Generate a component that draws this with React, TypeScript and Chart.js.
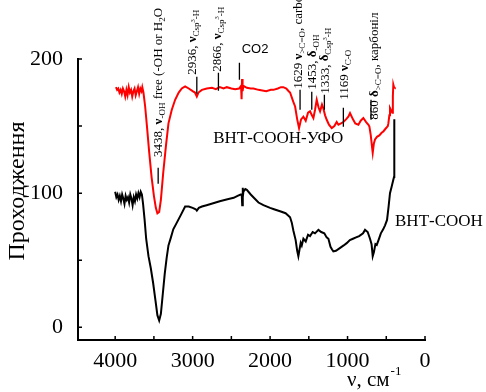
import React, { useEffect, useRef } from "react";
import { Chart, registerables } from "chart.js";
Chart.register(...registerables);

// ВНТ-СООН (black)
const wnBlack = [4000,3985,3970,3955,3940,3925,3910,3895,3880,3865,3850,3835,3820,3805,3790,3775,3760,3745,3730,3715,3700,3685,3670,3655,3640,3620,3600,3570,3540,3510,3480,3455,3432,3410,3385,3360,3335,3312,3280,3250,3204,3150,3097,3050,3000,2960,2946,2920,2880,2820,2735,2650,2550,2470,2420,2380,2366,2360,2355,2350,2345,2320,2300,2250,2200,2150,2086,2000,1950,1871,1800,1760,1742,1720,1699,1670,1650,1635,1620,1605,1591,1570,1540,1510,1484,1450,1420,1376,1340,1300,1270,1247,1220,1200,1183,1150,1100,1050,1011,970,930,890,850,800,774,740,710,690,675,660,640,623,600,570,540,516,490,470,452,430,409,400,398,396,395];
const tBlack = [101,97,99,95,98,94,99,96,92,98,95,97,93,99,96,91,97,94,99,96,100,97,101,99,92,80,66,53,44,33,20,9,5,10,25,40,52,61,67,73,78,84,90,90,89,88,87,89,90,91,92.5,94,95.5,96.5,98,99,99,91,104,97,101,103,102.5,99,96,93,91,89,88,86.5,85,83,82,78,72,65,57,53,58,63,61,66,64,69,68,71,70,72.6,71,70,67,66,60,58,56.5,57,59,61,62.7,65,66,67,68,70,72.6,71,66,62,53,56,62,61.4,65,70,73,76,80,90,100,105,110,112,125,145,155];

// ВНТ-СООН-УФО (red)
const wnRed = [3990,3975,3960,3945,3930,3915,3900,3885,3870,3855,3840,3825,3810,3795,3780,3765,3750,3735,3720,3705,3690,3675,3660,3650,3635,3613,3590,3560,3530,3500,3475,3455,3432,3410,3380,3345,3312,3270,3226,3180,3140,3097,3050,3000,2970,2946,2925,2880,2817,2750,2700,2650,2600,2559,2500,2450,2400,2375,2368,2362,2355,2345,2300,2250,2215,2150,2100,2050,1990,1957,1900,1860,1829,1790,1760,1742,1700,1677,1650,1626,1600,1570,1540,1510,1484,1460,1441,1420,1398,1375,1355,1330,1312,1290,1269,1240,1204,1170,1140,1118,1085,1054,1020,990,968,930,900,860,830,796,760,730,718,700,685,675,660,645,620,590,560,538,510,480,473,460,452,440,422,415,409,400,390];
const tRed = [179,177,178,175,177,174,178,176,172,177,173,179,175,177,172,176,178,173,176,179,174,178,176,179,175,164.6,150,130,112,98,89,85,86,95,115,135,152,162,169.6,175,178,179.6,178,176,175,172,175,177,178,178.5,177.5,179,178,179,178,177.5,178,180,170,185,176,180,178.5,178,178,177,176.5,176,177,177,178,179,179,178,176,175,168,164.6,155,148.5,155,157,154,160,161,158,156,162,169.6,164,161,166,163,158,154.7,151,148.5,150,153,151,152,153,155,157,159.7,155,152,151,154,156,153,151,149.7,143,135,130,137,140,142,143,145,146,148,150,152,158,163.4,162,160,172,181,179,178.6];

const xTicks = [4000, 3000, 2000, 1000, 0];
const xMinorTicks = [3500, 2500, 1500, 500];
const yTicks = [0, 100, 200];
const yMinorTicks = [50, 150];

const seriesNames = ["ВНТ-СООН-УФО", "ВНТ-СООН"];
const seriesLabelAt = [[2735, 141], [387, 78.8]]; // [wavenumber, transmission]
const yTitle = "Проходження";
const xTitle = "ν, см";
const xTitleSup = "-1";

type Part = { t: string; k: "n" | "b" | "sub" | "subsup" };
// annotation: text centre wn, text bottom value, line wn, line top value, line bottom value
const annWn = [3445, 2997, 2680, 1635, 1454, 1290, 1032, 645];
const annTextBottom = [127, 188.3, 190.5, 177.8, 177.1, 174, 169.6, 154.7];
const annLineWn = [3445, 2946, 2667, 1613, 1462, 1299, 1054, 697];
const annLineTop = [118.9, 186.8, 189.8, 177, 175.6, 173.4, 163.7, 169.6];
const annLineBottom = [106.9, 174.1, 176.3, 162.2, 162.2, 162.2, 149.5, 154.7];
const annTexts: Part[][] = [
  [{ t: "3438, ", k: "n" }, { t: "ν", k: "b" }, { t: "-OH", k: "sub" }, { t: " free (-OH or H", k: "n" }, { t: "2", k: "sub" }, { t: "O", k: "n" }],
  [{ t: "2936, ", k: "n" }, { t: "ν", k: "b" }, { t: "Csp", k: "sub" }, { t: "3", k: "subsup" }, { t: "-H", k: "sub" }],
  [{ t: "2866, ", k: "n" }, { t: "ν", k: "b" }, { t: "Csp", k: "sub" }, { t: "3", k: "subsup" }, { t: "-H", k: "sub" }],
  [{ t: "1629 ", k: "n" }, { t: "ν", k: "b" }, { t: ">C=O", k: "sub" }, { t: ", carbonyl", k: "n" }],
  [{ t: "1453, ", k: "n" }, { t: "δ", k: "b" }, { t: "-OH", k: "sub" }],
  [{ t: "1333, ", k: "n" }, { t: "δ", k: "b" }, { t: "Csp", k: "sub" }, { t: "3", k: "subsup" }, { t: "-H", k: "sub" }],
  [{ t: "1169 ", k: "n" }, { t: "ν", k: "b" }, { t: "C-O", k: "sub" }],
  [{ t: "860 ", k: "n" }, { t: "δ", k: "b" }, { t: ">C=O", k: "sub" }, { t: ", карбоніл", k: "n" }],
];
const co2Text = "CO2";
const co2LineWn = 2396;
const co2Line = [197.2, 184.6];
const co2LabelAt = [2194, 207];

const SERIF = '"Liberation Serif", "Times New Roman", serif';

function drawRich(ctx: CanvasRenderingContext2D, x: number, y: number, parts: Part[]) {
  ctx.save();
  ctx.translate(x, y);
  ctx.rotate(-Math.PI / 2);
  ctx.textAlign = "left";
  ctx.textBaseline = "middle";
  let cx = 0;
  for (const p of parts) {
    let size = 13, dy = 0, bold = false;
    if (p.k === "b") bold = true;
    if (p.k === "sub") { size = 9; dy = 4; }
    if (p.k === "subsup") { size = 6.5; dy = 0; }
    ctx.font = `${bold ? "bold " : ""}${size}px ${SERIF}`;
    ctx.fillText(p.t, cx, dy);
    cx += ctx.measureText(p.t).width;
  }
  ctx.restore();
}

const overlay = {
  id: "overlay",
  afterDraw(chart: any) {
    const ctx: CanvasRenderingContext2D = chart.ctx;
    const xs = chart.scales.x;
    const ys = chart.scales.y;
    const ca = chart.chartArea;
    ctx.save();
    ctx.strokeStyle = "#000";
    ctx.fillStyle = "#000";
    ctx.lineWidth = 1.5;
    // inward ticks
    ctx.beginPath();
    for (const v of [...xTicks, ...xMinorTicks]) {
      const px = xs.getPixelForValue(v);
      ctx.moveTo(px, ca.bottom);
      ctx.lineTo(px, ca.bottom - 4);
    }
    for (const v of [...yTicks, ...yMinorTicks]) {
      const py = ys.getPixelForValue(v);
      ctx.moveTo(ca.left, py);
      ctx.lineTo(ca.left + 4, py);
    }
    ctx.stroke();

    // annotation marker lines
    ctx.lineWidth = 1.3;
    ctx.beginPath();
    for (let i = 0; i < annLineWn.length; i++) {
      const px = xs.getPixelForValue(annLineWn[i]);
      ctx.moveTo(px, ys.getPixelForValue(annLineTop[i]));
      ctx.lineTo(px, ys.getPixelForValue(annLineBottom[i]));
    }
    const cpx = xs.getPixelForValue(co2LineWn);
    ctx.moveTo(cpx, ys.getPixelForValue(co2Line[0]));
    ctx.lineTo(cpx, ys.getPixelForValue(co2Line[1]));
    ctx.stroke();

    // annotation texts
    for (let i = 0; i < annWn.length; i++) {
      drawRich(ctx, xs.getPixelForValue(annWn[i]), ys.getPixelForValue(annTextBottom[i]), annTexts[i]);
    }
    ctx.font = `13px "Liberation Sans", Arial, sans-serif`;
    ctx.textAlign = "center";
    ctx.textBaseline = "middle";
    ctx.fillText(co2Text, xs.getPixelForValue(co2LabelAt[0]), ys.getPixelForValue(co2LabelAt[1]));

    // series labels
    ctx.font = `17px ${SERIF}`;
    ctx.textAlign = "left";
    for (let i = 0; i < seriesNames.length; i++) {
      ctx.fillText(seriesNames[i], xs.getPixelForValue(seriesLabelAt[i][0]), ys.getPixelForValue(seriesLabelAt[i][1]));
    }

    // y title
    ctx.save();
    ctx.translate(18, 191);
    ctx.rotate(-Math.PI / 2);
    ctx.font = `24px ${SERIF}`;
    ctx.textAlign = "center";
    ctx.textBaseline = "middle";
    ctx.fillText(yTitle, 0, 0);
    ctx.restore();

    // x title
    ctx.font = `21px ${SERIF}`;
    ctx.textAlign = "left";
    ctx.textBaseline = "middle";
    const tx = 347, ty = 380;
    ctx.fillText(xTitle, tx, ty);
    const w = ctx.measureText(xTitle).width;
    ctx.font = `13px ${SERIF}`;
    ctx.fillText(xTitleSup, tx + w + 1, ty - 8);
    ctx.restore();
  },
};

export default function App() {
  const ref = useRef<HTMLCanvasElement | null>(null);
  useEffect(() => {
    if (!ref.current) return;
    const font = { family: SERIF, size: 22 };
    const chart = new Chart(ref.current, {
      type: "line",
      data: {
        datasets: [
          {
            label: seriesNames[0],
            data: wnRed.map((x, i) => ({ x, y: tRed[i] })),
            borderColor: "#ff0000",
            borderWidth: 2,
            pointRadius: 0,
            tension: 0,
          },
          {
            label: seriesNames[1],
            data: wnBlack.map((x, i) => ({ x, y: tBlack[i] })),
            borderColor: "#000000",
            borderWidth: 2,
            pointRadius: 0,
            tension: 0,
          },
        ],
      },
      options: {
        animation: false,
        responsive: false,
        layout: { padding: { top: 59, right: 61, left: 0, bottom: 0 } },
        plugins: { legend: { display: false }, tooltip: { enabled: false } },
        scales: {
          x: {
            type: "linear",
            min: 0,
            max: 4480,
            reverse: true,
            grid: { display: false, drawTicks: false },
            border: { display: true, color: "#000", width: 2 },
            ticks: { font, color: "#000", padding: 8, maxRotation: 0, autoSkip: false, callback: (v: any) => String(v) },
            afterBuildTicks: (s: any) => { s.ticks = xTicks.map((v) => ({ value: v })); },
            afterFit: (s: any) => { s.height = 52; },
          },
          y: {
            type: "linear",
            min: -9.5,
            max: 200,
            grid: { display: false, drawTicks: false },
            border: { display: true, color: "#000", width: 2 },
            ticks: { font, color: "#000", padding: 15, autoSkip: false, callback: (v: any) => String(v) },
            afterBuildTicks: (s: any) => { s.ticks = yTicks.map((v) => ({ value: v })); },
            afterFit: (s: any) => { s.width = 78; },
          },
        },
      },
      plugins: [overlay],
    });
    return () => chart.destroy();
  }, []);
  return (
    <div style={{ position: "fixed", left: 0, top: 0, width: 486, height: 392, background: "#fff" }}>
      <canvas ref={ref} width={486} height={392} style={{ display: "block" }} />
    </div>
  );
}
